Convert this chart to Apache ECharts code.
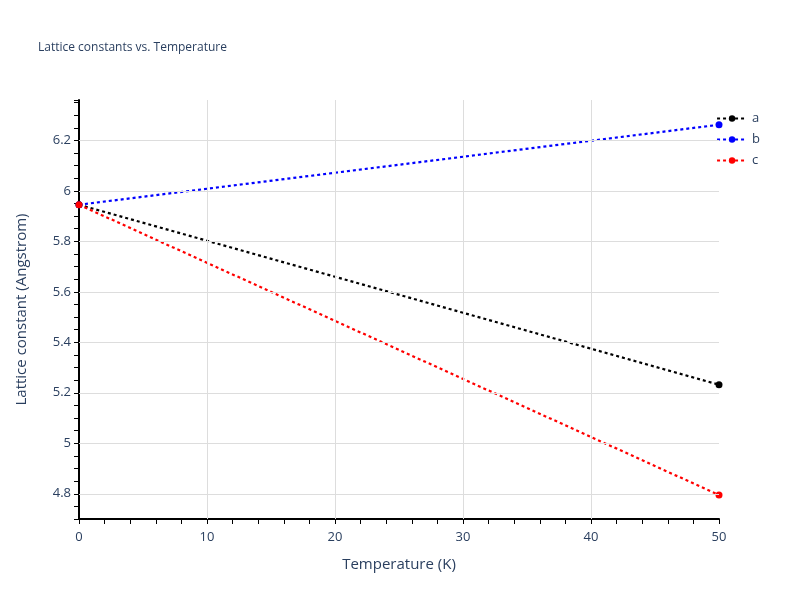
<!DOCTYPE html>
<html><head><meta charset="utf-8">
<script src="https://cdn.jsdelivr.net/npm/echarts@6/dist/echarts.min.js"></script>
<style>html,body{margin:0;padding:0;background:#fff}#c{width:800px;height:600px}</style>
</head><body><div id="c"></div>
<script>
const temps = [0, 50];
const seriesA = [5.945, 5.232];
const seriesB = [5.945, 6.262];
const seriesC = [5.945, 4.795];
const yGrid = [4.8, 5.0, 5.2, 5.4, 5.6, 5.8, 6.0, 6.2];
const xGrid = [10, 20, 30, 40];
const names = ['a', 'b', 'c'];
const colors = ['#000000', '#0000ff', '#ff0000'];
const font = {color: '#2a3f5f', fontSize: 13, fontFamily: '"Open Sans", Verdana, Arial, sans-serif'};
const chart = echarts.init(document.getElementById('c'));
const vals = [seriesA, seriesB, seriesC];
const series = names.map((n, i) => ({
  name: n, type: 'line', data: temps.map((t, j) => [t, vals[i][j]]),
  symbol: 'circle', symbolSize: 7, itemStyle: {color: colors[i]},
  lineStyle: {color: colors[i], width: 2.2, type: [3, 3]}, z: 3
}));
series.unshift({
  name: 'grid', type: 'line', data: [], silent: true, z: 1,
  markLine: {silent: true, symbol: 'none', label: {show: false}, animation: false,
    lineStyle: {color: '#dddddd', type: 'solid', width: 1},
    data: yGrid.map(v => ({yAxis: v})).concat(xGrid.map(v => ({xAxis: v})))}
});
chart.setOption({
  animation: false,
  title: {text: 'Lattice constants vs. Temperature', left: 33, top: 37,
    textStyle: Object.assign({}, font, {fontSize: 12, fontWeight: 'normal'})},
  legend: {data: names, orient: 'vertical', right: 35, top: 107, itemWidth: 30, itemHeight: 8,
    itemGap: 8, textStyle: font},
  grid: {left: 79, right: 81, top: 100, bottom: 81},
  xAxis: {type: 'value', min: 0, max: 50, interval: 2, name: 'Temperature (K)',
    nameLocation: 'middle', nameGap: 38, nameTextStyle: Object.assign({}, font, {fontSize: 15}),
    axisLine: {show: true, onZero: false, lineStyle: {color: '#000', width: 2}},
    axisTick: {show: true, length: 5, lineStyle: {color: '#000'}},
    axisLabel: Object.assign({}, font, {margin: 12, formatter: v => (Math.abs(v % 10) < 1e-6 ? String(v) : '')}),
    splitLine: {show: false}},
  yAxis: {type: 'value', min: 4.7, max: 6.36, interval: 0.05, name: 'Lattice constant (Angstrom)',
    nameLocation: 'middle', nameGap: 50, nameTextStyle: Object.assign({}, font, {fontSize: 15}),
    axisLine: {show: true, onZero: false, lineStyle: {color: '#000', width: 2}},
    axisTick: {show: true, length: 5, lineStyle: {color: '#000'}},
    axisLabel: Object.assign({}, font, {formatter: v => {
      const r = Math.round(v / 0.2);
      return Math.abs(v / 0.2 - r) < 1e-6 ? String(+(r * 0.2).toFixed(1)) : '';
    }}),
    splitLine: {show: false}},
  series: series
});
</script></body></html>
